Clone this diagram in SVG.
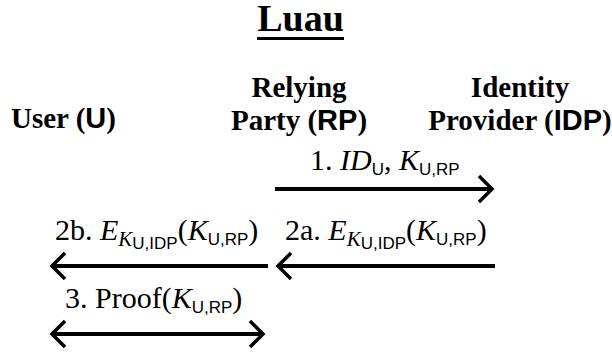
<svg xmlns="http://www.w3.org/2000/svg" width="612" height="354" viewBox="0 0 612 354">
<style>
.t{font-family:"Liberation Serif","Times New Roman",serif;fill:#000}
.b{font-weight:bold}
.s{font-family:"Liberation Sans",Arial,sans-serif}
.i{font-style:italic}
.hd{font-size:29px}
.lb{font-size:30px}
.ln{stroke:#000;stroke-width:4;fill:none}
.ah{stroke:#000;stroke-width:3.5;fill:none;stroke-linecap:butt;stroke-linejoin:miter}
</style>
<rect width="612" height="354" fill="#fff"/>
<g id="title">
<text class="t b" x="300.5" y="31" font-size="38" text-anchor="middle">Luau</text>
<line x1="257" y1="38.5" x2="344" y2="38.5" stroke="#000" stroke-width="3"/>
</g>
<g id="user">
<text class="t b hd" x="11" y="128">User (<tspan class="s">U</tspan>)</text>
</g>
<g id="rp">
<text class="t b hd" x="299" y="97" text-anchor="middle">Relying</text>
<text class="t b hd" x="299" y="130" text-anchor="middle">Party (<tspan class="s">RP</tspan>)</text>
</g>
<g id="idp">
<text class="t b hd" x="520" y="97" text-anchor="middle">Identity</text>
<text class="t b hd" x="520" y="130" text-anchor="middle">Provider (<tspan class="s">IDP</tspan>)</text>
</g>
<g id="connectors">
<g id="m1">
<line class="ln" x1="275" y1="189" x2="491" y2="189"/>
<polyline class="ah" points="479,176 492,189 479,202"/>
<text class="t lb" x="310" y="170">1. <tspan class="i">ID</tspan><tspan class="s" font-size="17" dy="5">U</tspan><tspan dy="-5">, </tspan><tspan class="i">K</tspan><tspan class="s" font-size="17" dy="5">U,RP</tspan></text>
</g>
<g id="m2a">
<line class="ln" x1="495" y1="266" x2="280" y2="266"/>
<polyline class="ah" points="291,253 278,266 291,279"/>
<text class="t lb" x="285" y="240">2a. <tspan class="i">E</tspan><tspan class="i" font-size="21" dy="6">K</tspan><tspan class="s" font-size="17" dy="3">U,IDP</tspan><tspan dy="-9">(</tspan><tspan class="i">K</tspan><tspan class="s" font-size="17" dy="5">U,RP</tspan><tspan dy="-5">)</tspan></text>
</g>
<g id="m2b">
<line class="ln" x1="268" y1="266" x2="54" y2="266"/>
<polyline class="ah" points="65,253 52,266 65,279"/>
<text class="t lb" x="55" y="240">2b. <tspan class="i">E</tspan><tspan class="i" font-size="21" dy="6">K</tspan><tspan class="s" font-size="17" dy="3">U,IDP</tspan><tspan dy="-9">(</tspan><tspan class="i">K</tspan><tspan class="s" font-size="17" dy="5">U,RP</tspan><tspan dy="-5">)</tspan></text>
</g>
<g id="m3">
<line class="ln" x1="54" y1="334" x2="261" y2="334"/>
<polyline class="ah" points="65,321 52,334 65,347"/>
<polyline class="ah" points="250,321 263,334 250,347"/>
<text class="t lb" x="65" y="308">3. Proof(<tspan class="i">K</tspan><tspan class="s" font-size="17" dy="5">U,RP</tspan><tspan dy="-5">)</tspan></text>
</g>
</g>
</svg>
